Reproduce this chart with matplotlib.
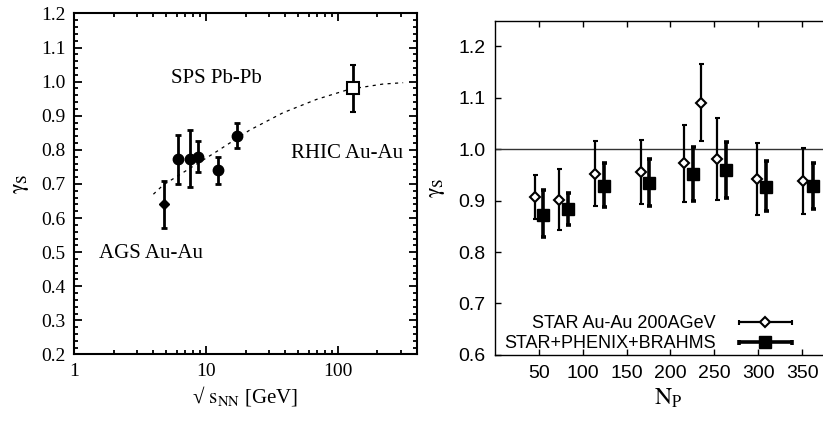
import matplotlib
matplotlib.use("Agg")
import matplotlib.pyplot as plt
from matplotlib.ticker import MultipleLocator, FixedLocator, NullFormatter
from matplotlib.legend_handler import HandlerErrorbar
from matplotlib.container import ErrorbarContainer

plt.rcParams["mathtext.fontset"] = "stix"
SERIF = ["Liberation Serif", "DejaVu Serif"]
SANS = ["Liberation Sans", "DejaVu Sans"]

# ---- left panel: gamma_S vs sqrt(s_NN) ----
ags_x = [4.8]
ags_y = [0.642]
ags_lo = [0.57]
ags_hi = [0.71]

sps_x = [6.2, 7.6, 8.7, 12.3, 17.2]
sps_y = [0.774, 0.772, 0.778, 0.740, 0.842]
sps_lo = [0.700, 0.690, 0.735, 0.700, 0.805]
sps_hi = [0.845, 0.857, 0.825, 0.780, 0.880]

rhic_x = [130.0]
rhic_y = [0.98]
rhic_lo = [0.91]
rhic_hi = [1.05]

# dashed trend curve
curve_x = [4.0, 4.75, 12.05, 21.5, 38.5, 69.0, 123.0, 220.0, 313.0]
curve_y = [0.670, 0.697, 0.795, 0.858, 0.909, 0.948, 0.978, 0.993, 0.997]

# ---- right panel: gamma_S vs N_part ----
star_np = [45.2, 72.8, 114.0, 166.9, 215.3, 235.3, 252.5, 298.1, 351.3]
star_g = [0.907, 0.902, 0.952, 0.955, 0.973, 1.090, 0.981, 0.943, 0.938]
star_lo = [0.864, 0.843, 0.890, 0.893, 0.898, 1.015, 0.902, 0.873, 0.874]
star_hi = [0.950, 0.962, 1.016, 1.017, 1.047, 1.165, 1.060, 1.013, 1.003]

comb_np = [55.2, 82.8, 124.4, 176.0, 225.3, 262.9, 308.9, 362.1]
comb_g = [0.873, 0.883, 0.929, 0.935, 0.951, 0.960, 0.927, 0.929]
comb_lo = [0.829, 0.853, 0.887, 0.889, 0.899, 0.905, 0.880, 0.884]
comb_hi = [0.920, 0.914, 0.974, 0.981, 1.004, 1.014, 0.977, 0.974]


def err(y, lo, hi):
    return [[a - b for a, b in zip(y, lo)], [b - a for a, b in zip(y, hi)]]


fig = plt.figure(figsize=(8.23, 4.21), dpi=100)
ax1 = fig.add_axes([0.0899, 0.158, 0.417, 0.810])
ax2 = fig.add_axes([0.6015, 0.157, 0.42, 0.794])

# left
ax1.plot(curve_x, curve_y, ls=(0, (2.5, 3.5)), color="k", lw=0.9)
ax1.errorbar(ags_x, ags_y, yerr=err(ags_y, ags_lo, ags_hi), fmt="D", ms=5,
             color="k", elinewidth=2, capsize=2.5, capthick=2)
ax1.errorbar(sps_x, sps_y, yerr=err(sps_y, sps_lo, sps_hi), fmt="o", ms=7.5,
             color="k", elinewidth=2, capsize=2.5, capthick=2)
ax1.errorbar(rhic_x, rhic_y, yerr=err(rhic_y, rhic_lo, rhic_hi), fmt="s", ms=8,
             mfc="white", mec="k", mew=1.5, color="k", elinewidth=2,
             capsize=2.5, capthick=2)
ax1.set_xscale("log")
ax1.set_xlim(1, 400)
ax1.set_ylim(0.2, 1.2)
ax1.yaxis.set_major_locator(MultipleLocator(0.1))
ax1.yaxis.set_minor_locator(MultipleLocator(0.02))
ax1.set_xticks([1, 10, 100])
ax1.set_xticklabels(["1", "10", "100"])
ax1.xaxis.set_minor_formatter(NullFormatter())
ax1.tick_params(which="both", direction="in", top=True, right=True,
                width=1.3, labelsize=14, pad=6)
ax1.tick_params(which="major", length=6)
ax1.tick_params(which="minor", length=3)
for lab in ax1.get_xticklabels() + ax1.get_yticklabels():
    lab.set_family(SERIF)
for s in ax1.spines.values():
    s.set_linewidth(1.5)
ax1.set_xlabel("√ $\\mathrm{s_{NN}}$ [GeV]", family=SERIF, fontsize=15, labelpad=3)
ax1.set_ylabel("$\\mathrm{\\gamma_S}$", family=SERIF, fontsize=16, labelpad=7)
ax1.text(5.4, 1.01, "SPS Pb-Pb", family=SERIF, fontsize=15, va="center")
ax1.text(44, 0.79, "RHIC Au-Au", family=SERIF, fontsize=15, va="center")
ax1.text(1.55, 0.495, "AGS Au-Au", family=SERIF, fontsize=15, va="center")

# right
ax2.axhline(1.0, color="#333333", lw=1.0)
star = ax2.errorbar(star_np, star_g, yerr=err(star_g, star_lo, star_hi), fmt="D",
                    ms=5.5, mfc="white", mec="k", mew=1.5, color="k",
                    elinewidth=1.6, capsize=1.8, capthick=1.6,
                    label="STAR Au-Au 200AGeV")
comb = ax2.errorbar(comb_np, comb_g, yerr=err(comb_g, comb_lo, comb_hi), fmt="s",
                    ms=8, color="k", elinewidth=2.6, capsize=1.8, capthick=2.6,
                    label="STAR+PHENIX+BRAHMS")
ax2.set_xlim(0, 394)
ax2.set_ylim(0.6, 1.25)
ax2.xaxis.set_major_locator(FixedLocator([50, 100, 150, 200, 250, 300, 350]))
ax2.set_yticks([0.6, 0.7, 0.8, 0.9, 1.0, 1.1, 1.2])
ax2.set_yticklabels(["0.6", "0.7", "0.8", "0.9", "1.0", "1.1", "1.2"])
ax2.tick_params(direction="in", top=True, right=True, length=4, width=1.0,
                labelsize=14, pad=7)
for lab in ax2.get_xticklabels() + ax2.get_yticklabels():
    lab.set_family(SANS)
ax2.spines["right"].set_visible(False)
for s in ax2.spines.values():
    s.set_linewidth(1.0)
ax2.set_xlabel("$\\mathrm{N_P}$", family=SERIF, fontsize=17, labelpad=4)
ax2.set_ylabel("$\\mathrm{\\gamma_S}$", family=SERIF, fontsize=16, labelpad=8)

# legend proxies with horizontal bars (a single NaN point, not drawn)
nan = float("nan")
p1 = ax2.errorbar([nan], [nan], xerr=[1], fmt="D", ms=5.5, mfc="white", mec="k",
                  mew=1.5, color="k", elinewidth=1.6, capsize=1.8, capthick=1.6)
p2 = ax2.errorbar([nan], [nan], xerr=[1], fmt="s", ms=8, color="k",
                  elinewidth=2.6, capsize=1.8, capthick=2.6)
leg = ax2.legend([p1, p2], [star.get_label(), comb.get_label()],
                 loc="lower right", bbox_to_anchor=(0.905, -0.04),
                 markerfirst=False, frameon=False, numpoints=1,
                 handlelength=2.9, handletextpad=1.3, labelspacing=0.15,
                 prop={"family": SANS, "size": 13},
                 handler_map={ErrorbarContainer: HandlerErrorbar(xerr_size=1.45)})

fig.savefig("out.png", dpi=100)
